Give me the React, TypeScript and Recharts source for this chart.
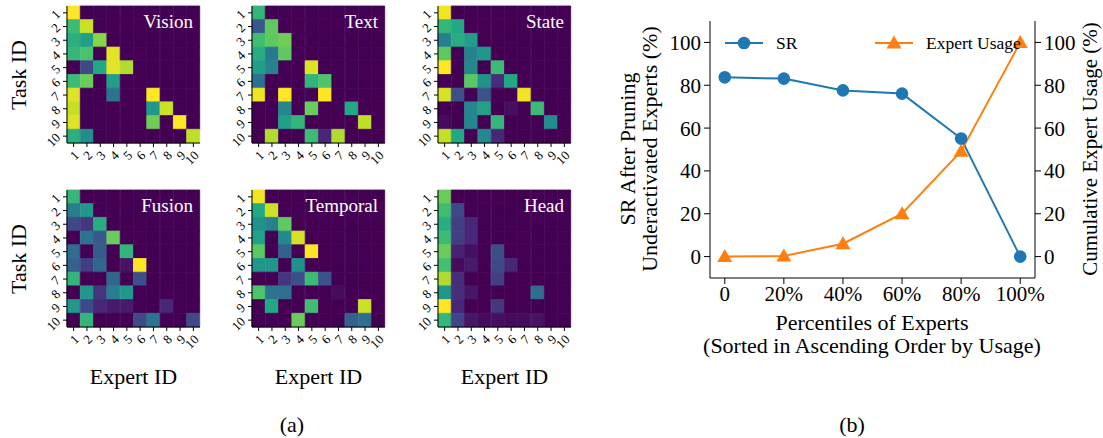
import React from "react";
import { BarChart, Bar, Cell, XAxis, YAxis, LineChart, Line, Legend, ReferenceArea } from "recharts";

// ---- (a) expert activation per task, one matrix per module (rows: tasks 1-10, cols: experts 1-10)
const experts = [1, 2, 3, 4, 5, 6, 7, 8, 9, 10];
const tasks = [1, 2, 3, 4, 5, 6, 7, 8, 9, 10];

const vision = [
  [100, 0, 0, 0, 0, 0, 0, 0, 0, 0],
  [68, 92, 0, 0, 0, 0, 0, 0, 0, 0],
  [63, 56, 82, 0, 0, 0, 0, 0, 0, 0],
  [66, 71, 0, 96, 0, 0, 0, 0, 0, 0],
  [0, 22, 60, 96, 88, 0, 0, 0, 0, 0],
  [68, 77, 0, 56, 0, 0, 0, 0, 0, 0],
  [95, 0, 0, 38, 0, 0, 100, 0, 0, 0],
  [91, 0, 0, 0, 0, 0, 52, 92, 0, 0],
  [95, 0, 0, 0, 0, 0, 78, 0, 100, 0],
  [63, 48, 0, 0, 0, 0, 0, 0, 0, 90],
];

const text = [
  [65, 0, 0, 0, 0, 0, 0, 0, 0, 0],
  [27, 75, 0, 0, 0, 0, 0, 0, 0, 0],
  [69, 75, 78, 0, 0, 0, 0, 0, 0, 0],
  [62, 40, 75, 0, 0, 0, 0, 0, 0, 0],
  [55, 44, 0, 0, 95, 0, 0, 0, 0, 0],
  [37, 0, 0, 0, 65, 72, 0, 0, 0, 0],
  [98, 0, 100, 0, 0, 100, 0, 0, 0, 0],
  [0, 0, 46, 0, 77, 0, 0, 60, 0, 0],
  [0, 0, 56, 65, 0, 0, 0, 0, 90, 0],
  [0, 88, 0, 0, 68, 11, 88, 0, 0, 0],
];

const state = [
  [98, 0, 0, 0, 0, 0, 0, 0, 0, 0],
  [66, 60, 0, 0, 0, 0, 0, 0, 0, 0],
  [43, 62, 55, 0, 0, 0, 0, 0, 0, 0],
  [75, 0, 44, 52, 0, 0, 0, 0, 0, 0],
  [100, 0, 47, 0, 68, 0, 0, 0, 0, 0],
  [0, 0, 74, 51, 13, 60, 0, 0, 0, 0],
  [94, 24, 0, 25, 0, 0, 98, 0, 0, 0],
  [0, 0, 46, 57, 0, 4, 0, 68, 0, 0],
  [3, 0, 46, 0, 66, 0, 0, 0, 48, 0],
  [91, 60, 0, 47, 11, 0, 0, 0, 0, 0],
];

const fusion = [
  [66, 0, 0, 0, 0, 0, 0, 0, 0, 0],
  [42, 53, 0, 0, 0, 0, 0, 0, 0, 0],
  [22, 16, 62, 0, 0, 0, 0, 0, 0, 0],
  [0, 38, 27, 77, 0, 0, 0, 0, 0, 0],
  [36, 0, 29, 0, 65, 0, 0, 0, 0, 0],
  [31, 18, 33, 0, 5, 100, 0, 0, 0, 0],
  [65, 0, 0, 33, 0, 24, 0, 0, 0, 0],
  [0, 53, 16, 42, 53, 0, 0, 0, 0, 0],
  [53, 22, 11, 7, 7, 0, 0, 11, 0, 0],
  [0, 65, 0, 0, 0, 22, 38, 0, 0, 22],
];

const temporal = [
  [98, 0, 0, 0, 0, 0, 0, 0, 0, 0],
  [60, 92, 0, 0, 0, 0, 0, 0, 0, 0],
  [50, 44, 75, 0, 0, 0, 0, 0, 0, 0],
  [57, 0, 47, 94, 0, 0, 0, 0, 0, 0],
  [74, 0, 30, 0, 100, 0, 0, 0, 0, 0],
  [52, 52, 0, 50, 0, 0, 0, 0, 0, 0],
  [0, 0, 16, 24, 68, 25, 0, 0, 0, 0],
  [72, 38, 36, 0, 0, 0, 3, 0, 0, 0],
  [0, 60, 0, 0, 69, 0, 0, 0, 92, 0],
  [0, 0, 0, 77, 0, 0, 0, 31, 36, 0],
];

const head = [
  [77, 0, 0, 0, 0, 0, 0, 0, 0, 0],
  [69, 22, 0, 0, 0, 0, 0, 0, 0, 0],
  [62, 18, 11, 0, 0, 0, 0, 0, 0, 0],
  [68, 18, 11, 0, 0, 0, 0, 0, 0, 0],
  [77, 9, 4, 0, 24, 0, 0, 0, 0, 0],
  [70, 3, 7, 0, 22, 11, 0, 0, 0, 0],
  [88, 13, 0, 0, 18, 0, 0, 0, 0, 0],
  [52, 13, 6, 0, 0, 0, 0, 36, 0, 0],
  [100, 11, 0, 0, 16, 0, 0, 0, 0, 0],
  [66, 20, 6, 3, 4, 3, 3, 5, 0, 0],
];

// ---- (b) pruning sweep
const percentiles = ["0", "20%", "40%", "60%", "80%", "100%"];
const srValues = [83.7, 83.1, 77.6, 76.1, 55.1, 0];
const usageValues = [0, 0.3, 6.0, 20.0, 49.2, 100];
const yTicks = [0, 20, 40, 60, 80, 100];
const seriesNames = ["SR", "Expert Usage"];

const SERIF = '"Liberation Serif", "DejaVu Serif", serif';

// viridis colour map, sampled every 0.1
const VIRIDIS = [
  "#440154", "#482475", "#414487", "#355f8d", "#2a788e", "#21918c",
  "#22a884", "#44bf70", "#7ad151", "#bddf26", "#fde725",
];
const hexToRgb = (h: string) => [1, 3, 5].map((i) => parseInt(h.slice(i, i + 2), 16));
const viridis = (t: number) => {
  const v = Math.max(0, Math.min(1, t)) * 10;
  const i = Math.min(9, Math.floor(v));
  const f = v - i;
  const a = hexToRgb(VIRIDIS[i]);
  const b = hexToRgb(VIRIDIS[i + 1]);
  const c = a.map((x, k) => Math.round(x + (b[k] - x) * f));
  return `rgb(${c[0]},${c[1]},${c[2]})`;
};

const CELL_W = 133;
const CELL_H = 137;
const AX_W = 32;
const AX_H = 28;

const ExpertTick = (props: any) => {
  const { x, y, payload } = props;
  return (
    <text
      x={x + 3}
      y={y + 4}
      transform={`rotate(-45 ${x + 3} ${y + 4})`}
      textAnchor="end"
      dominantBaseline="central"
      fontSize={13}
      fontFamily={SERIF}
      fill="#000"
    >
      {payload.value}
    </text>
  );
};

const TaskTick = (props: any) => {
  const { x, y, payload } = props;
  const tx = x - 3;
  const ty = y - 1;
  return (
    <text
      x={tx}
      y={ty}
      transform={`rotate(-45 ${tx} ${ty})`}
      textAnchor="end"
      dominantBaseline="central"
      fontSize={13}
      fontFamily={SERIF}
      fill="#000"
    >
      {payload.value + 0.5}
    </text>
  );
};

type HeatmapProps = { title: string; matrix: number[][]; left: number; top: number };

const Heatmap = ({ title, matrix, left, top }: HeatmapProps) => {
  const maxVal = Math.max(...matrix.flat());
  // each expert column is a stack of ten unit-height segments, one per task
  const rows = experts.map((e) => {
    const r: Record<string, number> = { expert: e };
    tasks.forEach((t) => (r["t" + t] = 1));
    return r;
  });
  return (
    <>
      <div style={{ position: "absolute", left: left - AX_W, top: top - 1 }}>
        <BarChart
          width={AX_W + CELL_W + 1}
          height={1 + CELL_H + AX_H}
          data={rows}
          margin={{ top: 1, right: 1, left: 0, bottom: 0 }}
          barCategoryGap={0}
          barGap={0}
        >
          <XAxis
            dataKey="expert"
            interval={0}
            height={AX_H}
            tickSize={4}
            tick={<ExpertTick />}
            axisLine={{ stroke: "#000" }}
            tickLine={{ stroke: "#000" }}
          />
          <YAxis
            type="number"
            domain={[0, 10]}
            reversed
            ticks={tasks.map((t) => t - 0.5)}
            interval={0}
            width={AX_W}
            tickSize={4}
            tick={<TaskTick />}
            axisLine={{ stroke: "#000" }}
            tickLine={{ stroke: "#000" }}
          />
          {tasks.map((t, i) => (
            <Bar key={t} dataKey={"t" + t} stackId="grid" isAnimationActive={false}>
              {experts.map((e, j) => {
                const c = viridis(matrix[i][j] / maxVal);
                return <Cell key={e} fill={c} stroke={c} strokeWidth={0.8} />;
              })}
            </Bar>
          ))}
          <ReferenceArea fill="none" stroke="#000" strokeWidth={1} fillOpacity={0} />
        </BarChart>
      </div>
      <div
        style={{
          position: "absolute",
          right: 1103 - (left + CELL_W - 7),
          top: top + 5,
          color: "#fff",
          fontFamily: SERIF,
          fontSize: 19,
          lineHeight: "22px",
        }}
      >
        {title}
      </div>
    </>
  );
};

const RotatedLabel = ({ text, cx, cy, size = 22 }: { text: string; cx: number; cy: number; size?: number }) => (
  <div
    style={{
      position: "absolute",
      left: cx - 200,
      top: cy - 13,
      width: 400,
      height: 26,
      lineHeight: "26px",
      textAlign: "center",
      transform: "rotate(-90deg)",
      fontFamily: SERIF,
      fontSize: size,
      whiteSpace: "nowrap",
    }}
  >
    {text}
  </div>
);

const CenteredLabel = ({ text, cx, cy, size = 22 }: { text: string; cx: number; cy: number; size?: number }) => (
  <div
    style={{
      position: "absolute",
      left: cx - 250,
      top: cy - 13,
      width: 500,
      height: 26,
      lineHeight: "26px",
      textAlign: "center",
      fontFamily: SERIF,
      fontSize: size,
      whiteSpace: "nowrap",
    }}
  >
    {text}
  </div>
);

const legendLefts = [115, 265];

const Marker = ({ kind, color }: { kind: string; color: string }) => (
  <svg width={38} height={26}>
    <line x1={0} y1={13} x2={38} y2={13} stroke={color} strokeWidth={2} />
    {kind === "circle" ? (
      <circle cx={19} cy={13} r={6.3} fill={color} />
    ) : (
      <polygon points="19,5.5 26.5,18.5 11.5,18.5" fill={color} />
    )}
  </svg>
);

const renderLegend = (props: any) => {
  const items = [...(props.payload || [])].sort(
    (a: any, b: any) => seriesNames.indexOf(a.value) - seriesNames.indexOf(b.value)
  );
  return (
    <div style={{ position: "relative", height: 26, fontFamily: SERIF, fontSize: 17.5 }}>
      {items.map((item: any) => {
        const i = seriesNames.indexOf(item.value);
        return (
          <div
            key={item.value}
            style={{ position: "absolute", left: legendLefts[i], top: 0, display: "flex", alignItems: "center", height: 26 }}
          >
            <Marker kind={i === 0 ? "circle" : "triangle"} color={item.color} />
            <span style={{ marginLeft: 13, whiteSpace: "nowrap" }}>{item.value}</span>
          </div>
        );
      })}
    </div>
  );
};

const TriangleDot = (props: any) => {
  const { cx, cy, fill } = props;
  if (cx == null || cy == null) return null;
  return <polygon points={`${cx},${cy - 7.5} ${cx + 7.5},${cy + 5.5} ${cx - 7.5},${cy + 5.5}`} fill={fill} />;
};

const PruningChart = () => {
  const rows = percentiles.map((p, i) => ({ pos: i, label: p, sr: srValues[i], usage: usageValues[i] }));
  const tickStyle = { fontSize: 21, fontFamily: SERIF, fill: "#000" };
  return (
    <div style={{ position: "absolute", left: 610, top: 0, fontFamily: SERIF }}>
      <LineChart width={493} height={308} data={rows} margin={{ top: 21, right: 23, left: 55, bottom: 0 }}>
        <XAxis
          dataKey="pos"
          type="number"
          domain={[-0.25, 5.25]}
          ticks={[0, 1, 2, 3, 4, 5]}
          tickFormatter={(v: number) => percentiles[v]}
          height={30}
          tickSize={6}
          tickMargin={2}
          tick={tickStyle}
          axisLine={{ stroke: "#000" }}
          tickLine={{ stroke: "#000" }}
          allowDataOverflow
        />
        <YAxis
          yAxisId="sr"
          domain={[-10, 110]}
          ticks={yTicks}
          width={45}
          tickSize={6}
          tickMargin={3}
          tick={tickStyle}
          axisLine={{ stroke: "#000" }}
          tickLine={{ stroke: "#000" }}
          allowDataOverflow
        />
        <YAxis
          yAxisId="usage"
          orientation="right"
          domain={[-10, 110]}
          ticks={yTicks}
          width={45}
          tickSize={6}
          tickMargin={3}
          tick={tickStyle}
          axisLine={{ stroke: "#000" }}
          tickLine={{ stroke: "#000" }}
          allowDataOverflow
        />
        <ReferenceArea yAxisId="sr" fill="none" fillOpacity={0} stroke="#000" strokeWidth={1} />
        <Line
          yAxisId="sr"
          dataKey="sr"
          name="SR"
          stroke="#1f77b4"
          strokeWidth={2}
          dot={{ r: 6.3, fill: "#1f77b4", stroke: "none" }}
          isAnimationActive={false}
        />
        <Line
          yAxisId="usage"
          dataKey="usage"
          name="Expert Usage"
          stroke="#ff7f0e"
          strokeWidth={2}
          dot={<TriangleDot fill="#ff7f0e" />}
          isAnimationActive={false}
        />
        <Legend
          layout="horizontal"
          verticalAlign="middle"
          align="center"
          content={renderLegend}
          wrapperStyle={{ top: 30, left: 0, width: 493 }}
        />
      </LineChart>
    </div>
  );
};

const plotLefts = [67, 252, 438];
const plotTops = [6, 190];

export default function App() {
  return (
    <div
      style={{
        position: "absolute",
        left: 0,
        top: 0,
        width: 1103,
        height: 438,
        background: "#fff",
        overflow: "hidden",
        fontFamily: SERIF,
      }}
    >
      <Heatmap title="Vision" matrix={vision} left={plotLefts[0]} top={plotTops[0]} />
      <Heatmap title="Text" matrix={text} left={plotLefts[1]} top={plotTops[0]} />
      <Heatmap title="State" matrix={state} left={plotLefts[2]} top={plotTops[0]} />
      <Heatmap title="Fusion" matrix={fusion} left={plotLefts[0]} top={plotTops[1]} />
      <Heatmap title="Temporal" matrix={temporal} left={plotLefts[1]} top={plotTops[1]} />
      <Heatmap title="Head" matrix={head} left={plotLefts[2]} top={plotTops[1]} />

      <RotatedLabel text="Task ID" cx={19} cy={plotTops[0] + CELL_H / 2} />
      <RotatedLabel text="Task ID" cx={19} cy={plotTops[1] + CELL_H / 2} />
      {plotLefts.map((l) => (
        <CenteredLabel key={l} text="Expert ID" cx={l + CELL_W / 2} cy={377} />
      ))}

      <PruningChart />
      <RotatedLabel text="SR After Pruning" cx={628} cy={149} />
      <RotatedLabel text="Underactivated Experts (%)" cx={650} cy={149} />
      <RotatedLabel text="Cumulative Expert Usage (%)" cx={1090} cy={149} size={21} />
      <CenteredLabel text="Percentiles of Experts" cx={872} cy={323} />
      <CenteredLabel text="(Sorted in Ascending Order by Usage)" cx={872} cy={346} />

      <CenteredLabel text="(a)" cx={292} cy={425} />
      <CenteredLabel text="(b)" cx={852} cy={425} />
    </div>
  );
}
